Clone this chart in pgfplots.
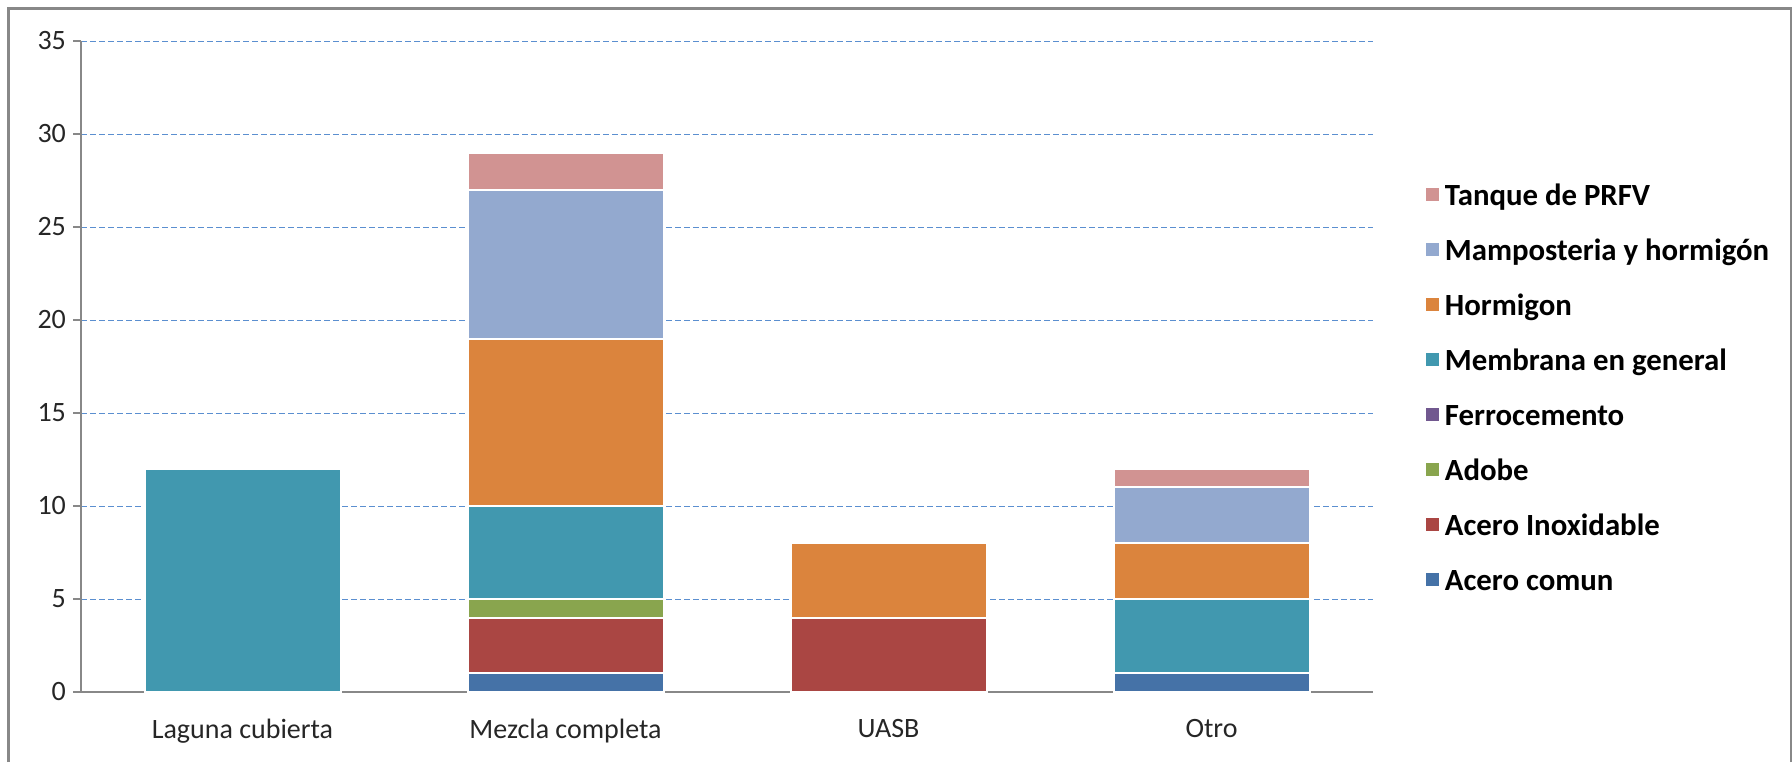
\documentclass[border=0pt]{standalone}
\usepackage{fontspec}
\setmainfont{Carlito}
\usepackage{pgfplots}
\pgfplotsset{compat=1.18}
\definecolor{acomun}{HTML}{4572A7}
\definecolor{ainox}{HTML}{AA4643}
\definecolor{adobe}{HTML}{89A54E}
\definecolor{ferro}{HTML}{71588F}
\definecolor{membrana}{HTML}{4198AF}
\definecolor{hormigon}{HTML}{DB843D}
\definecolor{mamp}{HTML}{93A9CF}
\definecolor{prfv}{HTML}{D19392}
\definecolor{gridblue}{HTML}{5B8FD0}
\definecolor{axgray}{HTML}{888888}
\begin{document}
\begin{tikzpicture}
\useasboundingbox (0,0) rectangle (896pt,381pt);
\draw[axgray, line width=1.5pt] (4pt,0) -- (4pt,376.5pt) -- (896pt,376.5pt);
\draw[axgray, line width=1pt] (895.5pt,0) -- (895.5pt,376.5pt);
\begin{axis}[
  at={(40.5pt,35pt)}, anchor=south west,
  scale only axis,
  width=646pt, height=325.5pt,
  ybar stacked,
  bar width=98pt,
  xmin=-0.5, xmax=3.5,
  ymin=0, ymax=35,
  ytick={0,5,...,35},
  xtick={0,1,2,3},
  xticklabels={Laguna cubierta, Mezcla completa, UASB, Otro},
  minor xtick={-0.5,0.5,1.5,2.5,3.5},
  xtick style={draw=none},
  minor x tick style={axgray, line width=0.6pt},
  minor tick length=5pt,
  major tick length=4pt,
  ytick style={axgray, line width=0.6pt},
  tick align=outside,
  axis x line*=bottom,
  axis y line*=left,
  axis line style={axgray, line width=0.6pt, -},
  ymajorgrids,
  grid style={gridblue, line width=0.5pt, dash pattern=on 3pt off 1.5pt},
  /pgf/number format/assume math mode=true,
  tick label style={font=\fontsize{14}{17}\selectfont, text=black!85},
  xticklabel style={yshift=-6pt},
  reverse legend,
  legend style={draw=none, fill=none, at={(1.036,0.79)}, anchor=north west,
    font=\bfseries\fontsize{15.4}{18}\selectfont,
    row sep=12pt, column sep=3pt,
    nodes={inner sep=0pt, text height=11.5pt, text depth=4pt, anchor=base west}},
  legend image code/.code={\fill[#1,draw=none] (0pt,2.25pt) rectangle (6.5pt,8.75pt);},
  every axis plot/.append style={draw=white, line width=1pt},
]
\addplot[fill=acomun] coordinates {(0,0) (1,1) (2,0) (3,1)};
\addlegendentry{Acero comun}
\addplot[fill=ainox] coordinates {(0,0) (1,3) (2,4) (3,0)};
\addlegendentry{Acero Inoxidable}
\addplot[fill=adobe] coordinates {(0,0) (1,1) (2,0) (3,0)};
\addlegendentry{Adobe}
\addplot[fill=ferro] coordinates {(0,0) (1,0) (2,0) (3,0)};
\addlegendentry{Ferrocemento}
\addplot[fill=membrana] coordinates {(0,12) (1,5) (2,0) (3,4)};
\addlegendentry{Membrana en general}
\addplot[fill=hormigon] coordinates {(0,0) (1,9) (2,4) (3,3)};
\addlegendentry{Hormigon}
\addplot[fill=mamp] coordinates {(0,0) (1,8) (2,0) (3,3)};
\addlegendentry{Mamposteria y hormigón}
\addplot[fill=prfv] coordinates {(0,0) (1,2) (2,0) (3,1)};
\addlegendentry{Tanque de PRFV}
\end{axis}
\end{tikzpicture}
\end{document}
